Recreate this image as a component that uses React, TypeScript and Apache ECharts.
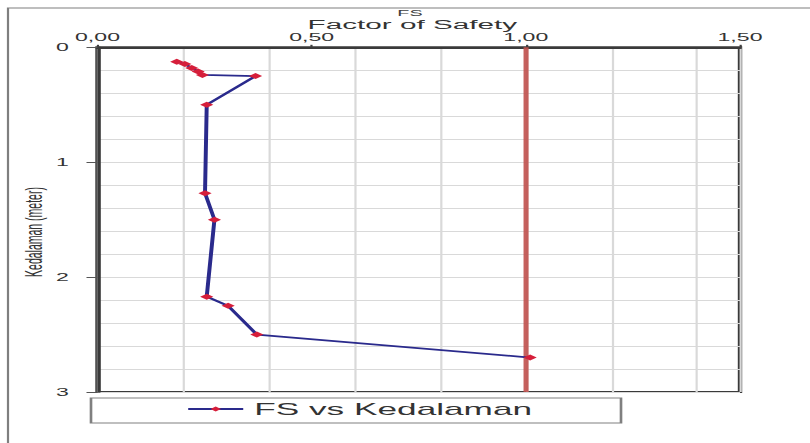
import React, { useEffect, useRef } from "react";
import * as echarts from "echarts";

// Depth below ground (m) and computed factor of safety at each depth
const depthM = [0.125, 0.145, 0.18, 0.21, 0.24, 0.25, 0.5, 1.27, 1.5, 2.17, 2.25, 2.5, 2.7];
const factorOfSafety = [0.185, 0.204, 0.22, 0.235, 0.245, 0.369, 0.255, 0.251, 0.273, 0.255, 0.305, 0.372, 1.01];

// Limit value drawn as the vertical reference line
const fsLimit = [1.0];

const seriesName = "FS vs Kedalaman";
const chartTitle = "FS";
const xAxisTitle = "Factor of Safety";
const yAxisTitle = "Kedalaman (meter)";

// The chart is laid out on a narrow canvas and widened horizontally
const BASE_W = 368;
const BASE_H = 443;
const STRETCH = 810 / BASE_W;

const FONT = "'Liberation Sans', Arial, Helvetica, sans-serif";

export default function App() {
  const ref = useRef<HTMLDivElement>(null);

  useEffect(() => {
    if (!ref.current) return;
    const chart = echarts.init(ref.current, undefined, { renderer: "svg" });

    const points = depthM.map((d, i) => [factorOfSafety[i], d]);
    const px = (realX: number) => realX / STRETCH;

    const gridLeft = px(97.5);
    const gridRight = px(740);

    chart.setOption({
      animation: false,
      backgroundColor: "#ffffff",
      textStyle: { fontFamily: FONT },
      grid: {
        left: gridLeft,
        top: 47.3,
        width: gridRight - gridLeft,
        height: 344.7,
        show: true,
        borderColor: "#3a3a3a",
        borderWidth: 2,
        backgroundColor: "transparent",
        containLabel: false,
      },
      legend: {
        left: px(186),
        top: 401,
        padding: 0,
        itemWidth: 25,
        itemHeight: 6,
        itemGap: 0,
        data: [seriesName],
        textStyle: { fontSize: 16, color: "#333333", fontFamily: FONT },
      },
      xAxis: [
        {
          type: "value",
          position: "top",
          min: 0,
          max: 1.5,
          interval: 0.5,
          axisLine: { show: true, lineStyle: { color: "#3a3a3a", width: 2 } },
          axisTick: { show: true, length: 2.5, lineStyle: { color: "#404040" } },
          axisLabel: {
            fontSize: 10.5,
            color: "#333333",
            margin: 4,
            formatter: (v: number) => v.toFixed(2).replace(".", ","),
          },
          splitLine: { show: false },
        },
        {
          type: "value",
          position: "bottom",
          min: 0,
          max: 1.5,
          interval: 0.2,
          axisLine: { show: false },
          axisTick: { show: false },
          axisLabel: { show: false },
          splitLine: { show: true, lineStyle: { color: "#d9d9d9", width: 1 } },
        },
      ],
      yAxis: {
        type: "value",
        min: 0,
        max: 3,
        interval: 1,
        inverse: true,
        axisLine: { show: true, lineStyle: { color: "#3a3a3a", width: 1.6 } },
        axisTick: { show: true, length: 5, lineStyle: { color: "#555555" } },
        axisLabel: { fontSize: 10.5, color: "#333333", margin: 13 },
        splitLine: { show: true, lineStyle: { color: "#d9d9d9", width: 1 } },
        minorTick: { show: false, splitNumber: 5 },
        minorSplitLine: { show: true, lineStyle: { color: "#d9d9d9", width: 1 } },
      },
      series: [
        {
          type: "line",
          name: seriesName,
          xAxisIndex: 0,
          data: points,
          symbol: "diamond",
          symbolSize: 6,
          showSymbol: true,
          lineStyle: { color: "#2a2a8c", width: 1.8 },
          itemStyle: { color: "#d61e3a" },
          z: 3,
          markLine: {
            silent: true,
            symbol: "none",
            label: { show: false },
            lineStyle: { color: "#c0504d", width: 2.3, type: "solid", opacity: 0.9 },
            data: fsLimit.map((v) => ({ xAxis: v })),
            z: 2,
          },
        },
      ],
      graphic: [
        {
          type: "rect",
          silent: true,
          shape: { x: px(8), y: 8, width: BASE_W + 20, height: BASE_H + 20 },
          style: { fill: "none", stroke: "#7f7f7f", lineWidth: 1 },
        },
        {
          type: "rect",
          silent: true,
          shape: { x: px(91), y: 398, width: px(621) - px(91), height: 25 },
          style: { fill: "none", stroke: "#808080", lineWidth: 1.2 },
        },
        {
          type: "text",
          silent: true,
          x: px(410),
          y: 12.5,
          style: {
            text: chartTitle,
            fontSize: 9,
            fontFamily: FONT,
            fill: "#404040",
            align: "center",
            verticalAlign: "middle",
          },
        },
        {
          type: "text",
          silent: true,
          x: px(412.4),
          y: 24,
          style: {
            text: xAxisTitle,
            fontSize: 13.5,
            fontFamily: FONT,
            fill: "#333333",
            align: "center",
            verticalAlign: "middle",
          },
        },
        {
          type: "text",
          silent: true,
          x: px(34),
          y: 232,
          rotation: Math.PI / 2,
          style: {
            text: yAxisTitle,
            fontSize: 10.5,
            fontFamily: FONT,
            fill: "#333333",
            align: "center",
            verticalAlign: "middle",
          },
        },
      ],
    });

    return () => chart.dispose();
  }, []);

  return (
    <div
      ref={ref}
      style={{
        position: "absolute",
        left: 0,
        top: 0,
        width: BASE_W,
        height: BASE_H,
        transform: `scaleX(${STRETCH})`,
        transformOrigin: "0 0",
        background: "#ffffff",
      }}
    />
  );
}
